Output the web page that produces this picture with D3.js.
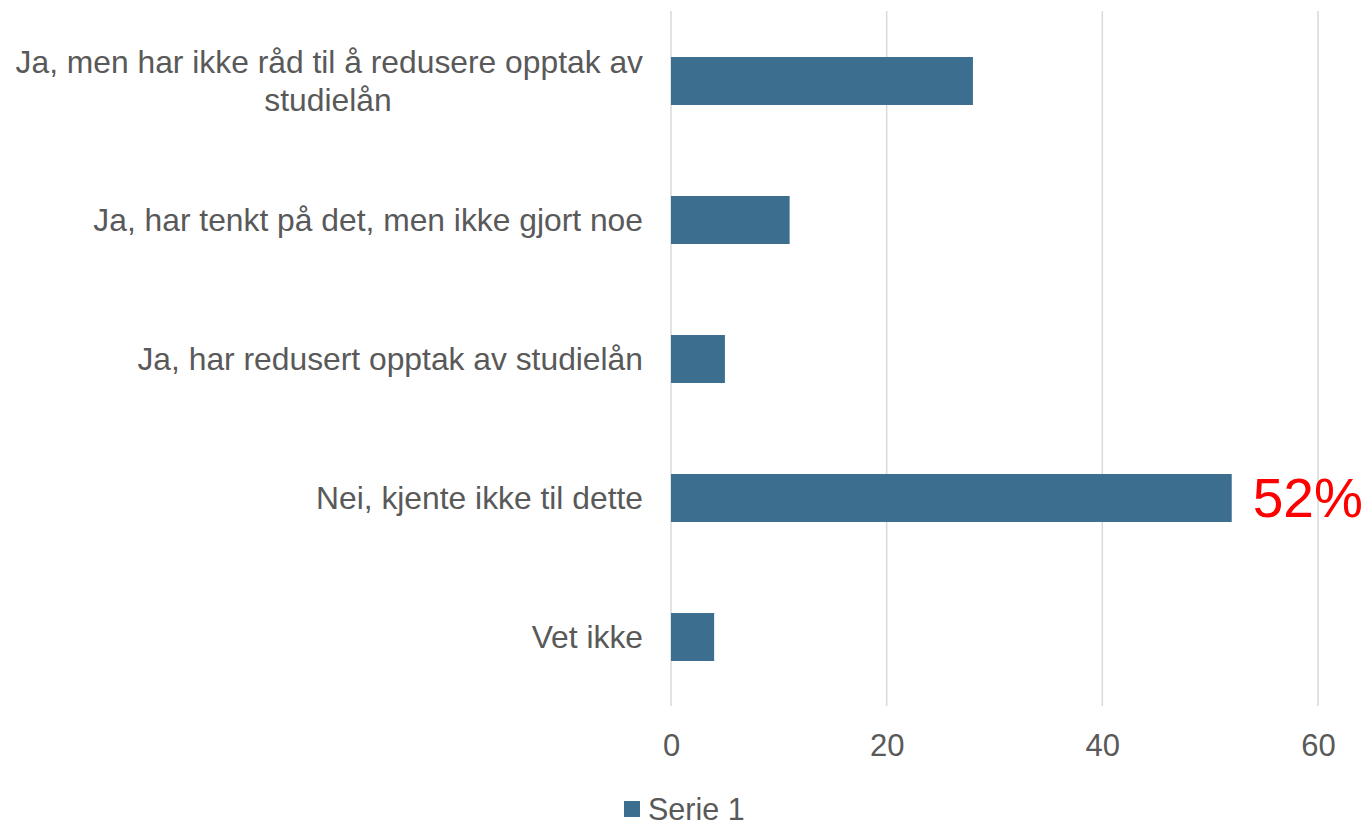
<!DOCTYPE html>
<html><head><meta charset="utf-8">
<script src="https://cdn.jsdelivr.net/npm/d3@7"></script>
<style>html,body{margin:0;padding:0;background:#fff;}svg{display:block;}</style>
</head><body>
<svg id="c" width="1366" height="822"></svg>
<script>
const categories = [
  ["Ja, men har ikke råd til å redusere opptak av", "studielån"],
  ["Ja, har tenkt på det, men ikke gjort noe"],
  ["Ja, har redusert opptak av studielån"],
  ["Nei, kjente ikke til dette"],
  ["Vet ikke"]
];
const values = [28, 11, 5, 52, 4];
const tickValues = [0, 20, 40, 60];
const seriesName = "Serie 1";
const annotation = {index: 3, text: "52%"};

const svg = d3.select("#c");
const font = "'Liberation Sans', Arial, sans-serif";
const grey = "#595959";
const barColor = "#3c6e8f";

const x = d3.scaleLinear().domain([0, 60]).range([671, 1318]);
const y = d3.scaleBand().domain(d3.range(categories.length)).range([11.5, 706.5]).paddingInner(0.655).paddingOuter(0.3275);

// gridlines
svg.append("g").selectAll("line").data(tickValues).join("line")
  .attr("x1", d => x(d)).attr("x2", d => x(d))
  .attr("y1", 11).attr("y2", 706)
  .attr("stroke", "#d9d9d9").attr("stroke-width", 1.5);

// bars
svg.append("g").selectAll("rect").data(values).join("rect")
  .attr("x", x(0)).attr("y", (d, i) => y(i))
  .attr("width", d => x(d) - x(0)).attr("height", y.bandwidth())
  .attr("fill", barColor);

// x axis
const xAxis = d3.axisBottom(x).tickValues(tickValues).tickSize(0).tickPadding(0);
const gx = svg.append("g").attr("transform", "translate(0,745)").call(xAxis);
gx.select(".domain").remove();
gx.selectAll("text").attr("font-family", font).attr("font-size", 31).attr("fill", grey)
  .attr("dy", "0.35em").attr("y", 0);

// category labels
const lab = svg.append("g").selectAll("text").data(categories).join("text")
  .attr("font-family", font).attr("font-size", 31.8).attr("fill", grey)
  .attr("text-anchor", "end")
  .attr("transform", (d, i) => `translate(643,${y(i) + y.bandwidth() / 2})`);
lab.each(function(d) {
  const t = d3.select(this);
  const n = d.length, lh = 38;
  d.forEach((line, k) => {
    const text = t.append("tspan").text(line)
      .attr("y", (k - (n - 1) / 2) * lh).attr("dy", "0.35em");
    if (n > 1 && k === 1) text.attr("x", -(643 - 328)).attr("text-anchor", "middle");
    else text.attr("x", 0);
  });
});

// annotation
svg.append("text")
  .attr("x", x(values[annotation.index]) + 21)
  .attr("y", y(annotation.index) + y.bandwidth() / 2)
  .attr("dy", "0.35em")
  .attr("font-family", font).attr("font-size", 55).attr("fill", "#ff0000")
  .text(annotation.text);

// legend
const lg = svg.append("g").attr("transform", "translate(624,809)");
lg.append("rect").attr("x", 0).attr("y", -8).attr("width", 16).attr("height", 16).attr("fill", barColor);
lg.append("text").attr("x", 24).attr("y", 0).attr("dy", "0.35em")
  .attr("font-family", font).attr("font-size", 30.5).attr("fill", grey).text(seriesName);
</script>
</body></html>
